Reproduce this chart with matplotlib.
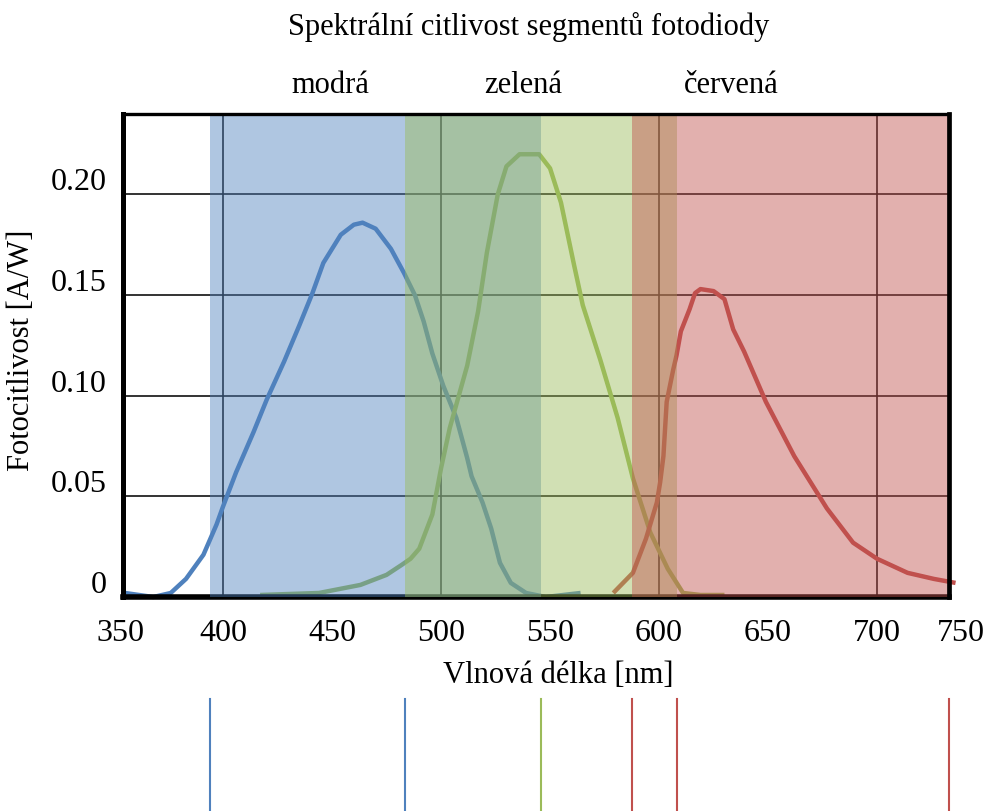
import matplotlib
matplotlib.use("Agg")
import matplotlib.pyplot as plt
from matplotlib.transforms import ScaledTranslation

plt.rcParams['font.family'] = ['Liberation Serif', 'DejaVu Serif']

# ---- texts ----
title = "Spektrální citlivost segmentů fotodiody"
segment_names = ["modrá", "zelená", "červená"]
x_label = "Vlnová délka [nm]"
y_label = "Fotocitlivost [A/W]"

# ---- spectral responsivity of the three segments (nm, A/W) ----
blue_nm = [355, 368, 376, 383, 391, 397, 400, 406, 414, 420, 428, 435, 441, 446,
           454, 460, 464, 470, 477, 483, 488, 492, 496, 501, 507, 512, 514, 519,
           523, 527, 532, 539, 548, 564]
blue_resp = [0.002, 0.000, 0.002, 0.009, 0.021, 0.036, 0.045, 0.062, 0.082, 0.098,
             0.117, 0.135, 0.151, 0.166, 0.180, 0.185, 0.186, 0.183, 0.173, 0.161,
             0.150, 0.137, 0.121, 0.105, 0.089, 0.069, 0.060, 0.047, 0.034, 0.017,
             0.007, 0.002, 0.000, 0.002]

green_nm = [417, 444, 463, 475, 482, 486, 490, 496, 500, 504, 512, 517, 521, 526,
            530, 536, 545, 550, 555, 561, 565, 573, 581, 588, 596, 604, 611, 619, 630]
green_resp = [0.001, 0.002, 0.006, 0.011, 0.016, 0.019, 0.024, 0.041, 0.064, 0.084,
              0.115, 0.142, 0.171, 0.200, 0.214, 0.220, 0.220, 0.213, 0.196, 0.165,
              0.145, 0.118, 0.089, 0.059, 0.032, 0.014, 0.002, 0.001, 0.001]

red_nm = [579, 588, 594, 599, 600.5, 602, 603.5, 606.5, 608, 610, 614, 616.5, 619,
          625, 630, 634, 639, 649, 662, 677, 689, 700, 714, 726, 736]
red_resp = [0.002, 0.012, 0.029, 0.047, 0.057, 0.070, 0.097, 0.113, 0.120, 0.132,
            0.143, 0.151, 0.153, 0.152, 0.148, 0.133, 0.122, 0.097, 0.070, 0.044,
            0.027, 0.019, 0.012, 0.009, 0.007]

# ---- wavelength bands of the segments (nm) ----
blue_band = (394, 546)
green_band = (483.5, 608)
red_band = (587.5, 733)

# band edge markers below the chart
marker_nm = [394, 483.5, 546, 587.5, 608, 733]
marker_keys = ["blue", "blue", "green", "red", "red", "red"]

x_tick_values = [350, 400, 450, 500, 550, 600, 650, 700, 750]
x_grid = [400, 500, 600, 700]
y_tick_values = [0, 0.05, 0.10, 0.15, 0.20]
y_tick_labels = ["0", "0.05", "0.10", "0.15", "0.20"]

colors = {"blue": "#4F81BD", "green": "#9BBB59", "red": "#C0504D"}

W, H = 989, 812
fig = plt.figure(figsize=(W / 100, H / 100), dpi=100)
left, right, bottom, top = 123, 949, 598, 115
ax = fig.add_axes([left / W, (H - bottom) / H, (right - left) / W, (bottom - top) / H])
x_min, x_max = 354.1, 733.0
ax.set_xlim(x_min, x_max)
ax.set_ylim(0, 0.24)

# grid
for g in x_grid:
    ax.axvline(g, color="#111111", lw=1.2, zorder=1)
for v in y_tick_values[1:]:
    ax.axhline(v, color="#111111", lw=1.2, zorder=1)

# curves
for nm, resp, key in [(blue_nm, blue_resp, "blue"), (green_nm, green_resp, "green"),
                      (red_nm, red_resp, "red")]:
    ax.plot(nm, resp, color=colors[key], lw=3.2, solid_capstyle="butt",
            solid_joinstyle="round", zorder=2, clip_on=False)

# translucent segment bands
for (a, b), key in [(blue_band, "blue"), (green_band, "green"), (red_band, "red")]:
    ax.axvspan(a, b, color=colors[key], alpha=0.45, lw=0, zorder=3)

# frame
for side, lw, z in [("left", 3.6, 5), ("bottom", 4.0, 2.5), ("top", 2.4, 5), ("right", 3.4, 5)]:
    ax.spines[side].set_linewidth(lw)
    ax.spines[side].set_color("black")
    ax.spines[side].set_zorder(z)

# ticks
fs = 22
fs_tick = 23
x_pad = 15
in_range = [v for v in x_tick_values if x_min <= v <= x_max]
ax.set_xticks(in_range, [str(v) for v in in_range])
ax.tick_params(axis="x", length=0, pad=x_pad, labelsize=fs_tick)
ax.set_yticks(y_tick_values, y_tick_labels)
ax.tick_params(axis="y", length=0, pad=12, labelsize=fs_tick)
shift = ScaledTranslation(0, 0.16, fig.dpi_scale_trans)
for lab in ax.get_yticklabels():
    lab.set_transform(lab.get_transform() + shift)

# end labels of the wavelength axis, just outside the frame
edge_tr = ax.get_xaxis_transform() + ScaledTranslation(0, -x_pad / 72, fig.dpi_scale_trans)
for v in x_tick_values:
    if v < x_min:
        ax.text(x_min, 0, str(v), transform=edge_tr + ScaledTranslation(-0.03, 0, fig.dpi_scale_trans),
                ha="center", va="top", fontsize=fs_tick, clip_on=False)
    elif v > x_max:
        ax.text(x_max, 0, str(v), transform=edge_tr + ScaledTranslation(0.12, 0, fig.dpi_scale_trans),
                ha="center", va="top", fontsize=fs_tick, clip_on=False)

# titles and axis labels
fig.text(529 / W, (H - 27) / H, title, ha="center", va="center", fontsize=fs)
for name, xf in zip(segment_names, [0.2506, 0.4843, 0.736]):
    ax.text(xf, 1.062, name, transform=ax.transAxes, ha="center", va="center", fontsize=fs)
fig.text(558 / W, (H - 676) / H, x_label, ha="center", va="center", fontsize=fs)
fig.text(22 / W, (H - 350) / H, y_label, ha="center", va="center", rotation=90, fontsize=fs)

# band edge markers
mk = fig.add_axes([left / W, 0, (right - left) / W, 112 / H], sharex=ax)
mk.set_ylim(0, 1)
mk.axis("off")
for nm, key in zip(marker_nm, marker_keys):
    mk.axvline(nm, color=colors[key], lw=1.5, clip_on=False)

fig.savefig("out.png", dpi=100)
